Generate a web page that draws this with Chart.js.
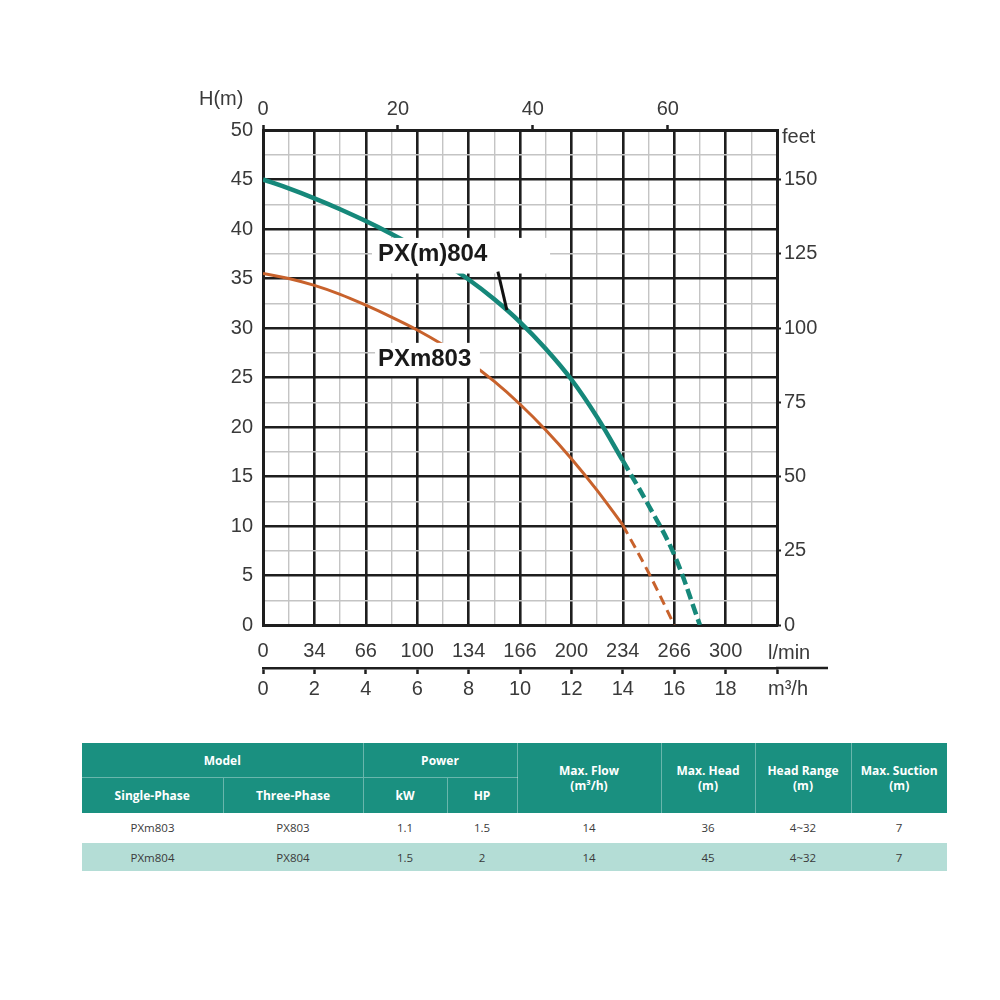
<!DOCTYPE html>
<html>
<head>
<meta charset="utf-8">
<script src="https://cdn.jsdelivr.net/npm/chart.js@4.4.1/dist/chart.umd.min.js"></script>
<style>
  body { margin: 0; background: #fff; }
  #wrap { position: relative; width: 1000px; height: 1000px; }
  #curve { position: absolute; left: 0; top: 0; }
  table.spec {
    position: absolute; left: 82px; top: 743px; width: 865px;
    border-collapse: collapse; table-layout: fixed;
    font-family: "Open Sans", "Noto Sans", sans-serif; text-align: center;
  }
  table.spec th {
    background: #1a9080; color: #fff; font-size: 12px; font-weight: 700;
    border-left: 1px solid rgba(255,255,255,0.35); line-height: 15px; padding: 0;
  }
  table.spec th:first-child { border-left: none; }
  table.spec tr.h1 th { height: 34px; }
  table.spec tr.h2 th { height: 35px; border-top: 1px solid rgba(255,255,255,0.35); }
  table.spec td { font-size: 11.5px; color: #3a3a3a; height: 28px; padding: 0; }
  table.spec tr.alt td { background: #b4ddd6; border-top: 2px solid #fff; }
</style>
</head>
<body>
<div id="wrap">
  <canvas id="curve" width="1000" height="720"></canvas>
  <table class="spec">
    <colgroup>
      <col style="width:141px"><col style="width:140px"><col style="width:84px"><col style="width:70px">
      <col style="width:144px"><col style="width:94px"><col style="width:96px"><col style="width:96px">
    </colgroup>
    <tr class="h1">
      <th colspan="2">Model</th>
      <th colspan="2">Power</th>
      <th rowspan="2">Max. Flow<br>(m³/h)</th>
      <th rowspan="2">Max. Head<br>(m)</th>
      <th rowspan="2">Head Range<br>(m)</th>
      <th rowspan="2">Max. Suction<br>(m)</th>
    </tr>
    <tr class="h2">
      <th>Single-Phase</th><th style="border-left:1px solid rgba(255,255,255,0.35)">Three-Phase</th><th>kW</th><th>HP</th>
    </tr>
    <tr><td>PXm803</td><td>PX803</td><td>1.1</td><td>1.5</td><td>14</td><td>36</td><td>4~32</td><td>7</td></tr>
    <tr class="alt"><td>PXm804</td><td>PX804</td><td>1.5</td><td>2</td><td>14</td><td>45</td><td>4~32</td><td>7</td></tr>
  </table>
</div>
<script>
// pump curves, flow in m3/h, head in m
const px804Flow = [0, 1, 2, 3, 4, 5, 6, 7, 8, 9, 10, 11, 12, 13, 14];
const px804Head = [45, 44.1, 43.1, 42.0, 40.8, 39.5, 38.1, 36.6, 34.9, 32.9, 30.6, 27.9, 24.8, 21.0, 16.6];
const px804DashFlow = [14, 15, 16, 17];
const px804DashHead = [16.6, 12.1, 7.1, 0];

const pxm803Flow = [0, 1, 2, 3, 4, 5, 6, 7, 8, 9, 10, 11, 12, 13, 14];
const pxm803Head = [35.5, 35.0, 34.3, 33.4, 32.3, 31.1, 29.8, 28.3, 26.6, 24.6, 22.3, 19.7, 16.8, 13.6, 10.1];
const pxm803DashFlow = [14, 15, 16];
const pxm803DashHead = [10.1, 5.3, 0];

// axis labels
const lpmLabels = ['0', '34', '66', '100', '134', '166', '200', '234', '266', '300'];
const m3hLabels = [0, 2, 4, 6, 8, 10, 12, 14, 16, 18];
const gpmLabels = [0, 20, 40, 60];
const gpmToM3h = 0.2625;
const feetLabels = [0, 25, 50, 75, 100, 125, 150];
const feetToM = 0.3;

const TEAL = '#16887a';
const ORANGE = '#c8622c';
const INK = '#1e1e1e';
const LABEL = '#3a3a3a';
const FONT = { family: '"Liberation Sans", Arial, sans-serif', size: 20 };

function pts(xs, ys) {
    return xs.map((x, i) => ({ x: x, y: ys[i] }));
}

function majorColor(step) {
    return ctx => (Math.abs(ctx.tick.value % step) < 1e-6 ? INK : '#c4c4c4');
}
function majorWidth(step) {
    return ctx => (Math.abs(ctx.tick.value % step) < 1e-6 ? 2.6 : 1.4);
}

// labels, white boxes behind the curve names, unit texts
const extras = {
    id: 'extras',
    afterDatasetsDraw(chart) {
        const c = chart.ctx;
        const x = chart.scales.x, y = chart.scales.y;
        c.save();
        // white boxes behind curve names
        c.fillStyle = '#fff';
        c.fillRect(x.getPixelForValue(4.24), y.getPixelForValue(39.1),
            x.getPixelForValue(11.17) - x.getPixelForValue(4.24), y.getPixelForValue(35.5) - y.getPixelForValue(39.1));
        c.fillRect(x.getPixelForValue(4.36), y.getPixelForValue(28.5),
            x.getPixelForValue(8.44) - x.getPixelForValue(4.36), y.getPixelForValue(25.15) - y.getPixelForValue(28.5));

        c.fillStyle = '#1a1a1a';
        c.font = 'bold 24px "Liberation Sans", Arial, sans-serif';
        c.textBaseline = 'middle';
        c.textAlign = 'left';
        c.fillText('PX(m)804', x.getPixelForValue(4.47), y.getPixelForValue(37.4));
        c.fillText('PXm803', x.getPixelForValue(4.47), y.getPixelForValue(26.8));

        // leader line
        c.strokeStyle = '#111';
        c.lineWidth = 3;
        c.beginPath();
        c.moveTo(x.getPixelForValue(9.14), y.getPixelForValue(35.7));
        c.lineTo(x.getPixelForValue(9.49), y.getPixelForValue(31.8));
        c.stroke();
        c.restore();
    },
    afterDraw(chart) {
        const c = chart.ctx;
        const area = chart.chartArea;
        const xm = chart.scales.xm;
        c.save();
        c.fillStyle = LABEL;
        c.font = '20px "Liberation Sans", Arial, sans-serif';
        c.textBaseline = 'middle';
        c.textAlign = 'left';
        c.fillText('H(m)', 199, 99);
        c.fillText('feet', area.right + 5, 137);
        c.fillText('l/min', 768, 653);
        c.fillText('m³/h', 768, 689);
        // m3/h axis line runs past the plot
        c.strokeStyle = INK;
        c.lineWidth = 2.5;
        c.beginPath();
        c.moveTo(area.right - 1, xm.top);
        c.lineTo(828, xm.top);
        c.stroke();
        c.restore();
    }
};

new Chart(document.getElementById('curve'), {
    type: 'line',
    data: {
        datasets: [
            { data: pts(px804Flow, px804Head), borderColor: TEAL, borderWidth: 4.5 },
            { data: pts(px804DashFlow, px804DashHead), borderColor: TEAL, borderWidth: 4.5, borderDash: [11, 5] },
            { data: pts(pxm803Flow, pxm803Head), borderColor: ORANGE, borderWidth: 3 },
            { data: pts(pxm803DashFlow, pxm803DashHead), borderColor: ORANGE, borderWidth: 3, borderDash: [10, 6] }
        ]
    },
    options: {
        responsive: false,
        animation: false,
        layout: { padding: 0 },
        elements: {
            point: { radius: 0 },
            line: { tension: 0.4, fill: false, borderCapStyle: 'butt' }
        },
        plugins: { legend: { display: false }, tooltip: { enabled: false } },
        scales: {
            x: {
                type: 'linear', position: 'bottom', weight: 1, min: 0, max: 20,
                afterFit: s => { s.height = 43; },
                ticks: {
                    stepSize: 1, autoSkip: false, maxRotation: 0, padding: 14, color: LABEL, font: FONT,
                    callback: v => (v % 2 === 0 && v < 20 ? lpmLabels[v / 2] : '')
                },
                grid: { color: majorColor(2), lineWidth: majorWidth(2), drawTicks: false },
                border: { display: true, color: INK, width: 3 }
            },
            xm: {
                type: 'linear', position: 'bottom', weight: 2, min: 0, max: 20,
                afterFit: s => { s.height = 52; },
                ticks: {
                    stepSize: 2, autoSkip: false, maxRotation: 0, padding: 3, color: LABEL, font: FONT,
                    callback: v => (m3hLabels.includes(v) ? v : '')
                },
                grid: { drawOnChartArea: false, tickLength: 6, color: INK, tickWidth: 2.5 },
                border: { display: true, color: INK, width: 2.5 }
            },
            xt: {
                type: 'linear', position: 'top', min: 0, max: 20,
                afterFit: s => { s.height = 130; },
                afterBuildTicks: s => { s.ticks = gpmLabels.map(g => ({ value: g * gpmToM3h })); },
                ticks: {
                    autoSkip: false, maxRotation: 0, padding: 4, color: LABEL, font: FONT,
                    callback: (v, i) => gpmLabels[i]
                },
                grid: { drawOnChartArea: false, tickLength: 5, color: INK, tickWidth: 2.5 },
                border: { display: true, color: INK, width: 3 }
            },
            y: {
                type: 'linear', position: 'left', min: 0, max: 50,
                afterFit: s => { s.width = 263; },
                ticks: {
                    stepSize: 2.5, autoSkip: false, padding: 10, color: LABEL, font: FONT,
                    callback: v => (v % 5 === 0 ? v : '')
                },
                grid: { color: majorColor(5), lineWidth: majorWidth(5), drawTicks: false },
                border: { display: true, color: INK, width: 3 }
            },
            yr: {
                type: 'linear', position: 'right', min: 0, max: 50,
                afterFit: s => { s.width = 223; },
                afterBuildTicks: s => { s.ticks = feetLabels.map(f => ({ value: f * feetToM })); },
                ticks: {
                    autoSkip: false, padding: 3, color: LABEL, font: FONT,
                    callback: (v, i) => feetLabels[i]
                },
                grid: { drawOnChartArea: false, tickLength: 4, color: INK, tickWidth: 2 },
                border: { display: true, color: INK, width: 3 }
            }
        }
    },
    plugins: [extras]
});
</script>
</body>
</html>
